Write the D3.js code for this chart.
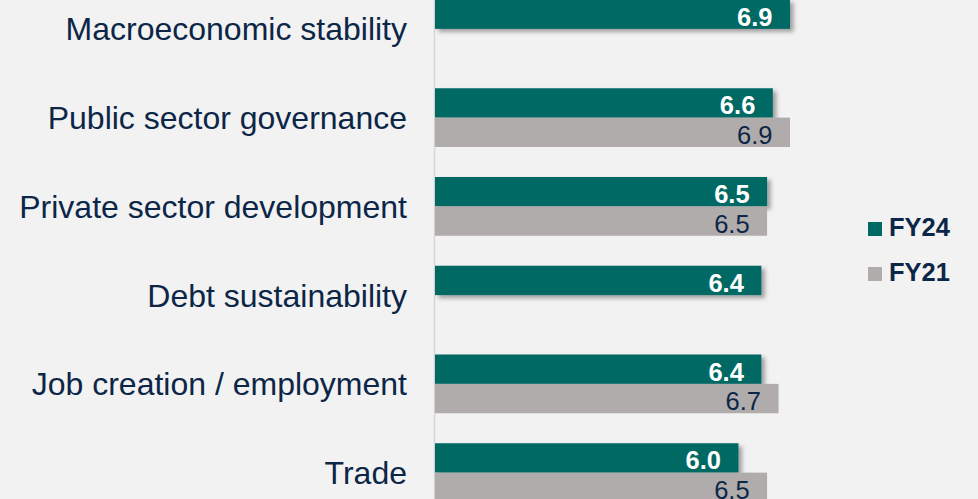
<!DOCTYPE html>
<html>
<head>
<meta charset="utf-8">
<script src="https://cdn.jsdelivr.net/npm/d3@7"></script>
<style>
  html, body { margin: 0; padding: 0; background: #f2f2f2; }
  svg { display: block; font-family: "Liberation Sans", Arial, sans-serif; }
</style>
</head>
<body>
<svg id="vis"></svg>
<script>
const categories = [
  "Macroeconomic stability",
  "Public sector governance",
  "Private sector development",
  "Debt sustainability",
  "Job creation / employment",
  "Trade"
];
const seriesNames = ["FY24", "FY21"];
const fy24 = [6.9, 6.6, 6.5, 6.4, 6.4, 6.0];
const fy21 = [null, 6.9, 6.5, null, 6.7, 6.5];

const WIDTH = 978;
const HEIGHT = 499;
const TEAL = "#006964";
const GREY = "#b0acab";
const NAVY = "#0c2647";

const SVG = d3.select("#vis")
  .attr("width", WIDTH)
  .attr("height", HEIGHT);

SVG.append("rect")
  .attr("width", WIDTH)
  .attr("height", HEIGHT)
  .attr("fill", "#f2f2f2");

// soft excel-like shadow
const defs = SVG.append("defs");
defs.append("filter")
  .attr("id", "shadow")
  .attr("x", "-10%").attr("y", "-30%")
  .attr("width", "130%").attr("height", "180%")
  .append("feDropShadow")
  .attr("dx", 3.5).attr("dy", 3)
  .attr("stdDeviation", 2.2)
  .attr("flood-color", "#000")
  .attr("flood-opacity", 0.35);

// axis does not start at zero in the source chart
const x_scale = d3.scaleLinear()
  .domain([0.7, 6.9])
  .range([435, 790]);

const y_scale = d3.scaleBand()
  .domain(categories)
  .range([-0.5, 502])
  .paddingInner(0.338)
  .paddingOuter(0);

const y_sub = d3.scaleBand()
  .domain(seriesNames)
  .range([0, y_scale.bandwidth()]);

// vertical axis line
SVG.append("line")
  .attr("x1", x_scale.range()[0] - 0.5)
  .attr("x2", x_scale.range()[0] - 0.5)
  .attr("y1", 0)
  .attr("y2", HEIGHT)
  .attr("stroke", "#d6d6d6")
  .attr("stroke-width", 1.5);

// category labels
SVG.append("g").selectAll("text")
  .data(categories)
  .enter()
  .append("text")
  .attr("x", 407)
  .attr("y", (d) => y_scale(d) + y_scale.bandwidth() / 2 + 11.4)
  .attr("text-anchor", "end")
  .attr("font-size", 32)
  .attr("fill", NAVY)
  .text((d) => d);

const rows = categories.map((c, i) => ({cat: c, FY24: fy24[i], FY21: fy21[i]}));

const drawSeries = function(name, color, labelColor, weight, shadow) {
  const data = rows.filter((d) => d[name] != null);
  const g = SVG.append("g").attr("class", "series-" + name);

  g.selectAll("rect")
    .data(data)
    .enter()
    .append("rect")
    .attr("x", x_scale.range()[0])
    .attr("y", (d) => y_scale(d.cat) + y_sub(name))
    .attr("width", (d) => x_scale(d[name]) - x_scale.range()[0])
    .attr("height", y_sub.bandwidth())
    .attr("fill", color)
    .attr("filter", shadow ? "url(#shadow)" : null);

  g.selectAll("text")
    .data(data)
    .enter()
    .append("text")
    .attr("x", (d) => x_scale(d[name]) - 17.5)
    .attr("y", (d) => y_scale(d.cat) + y_sub(name) + y_sub.bandwidth() / 2 + 11.5)
    .attr("text-anchor", "end")
    .attr("font-size", 25.5)
    .attr("font-weight", weight)
    .attr("fill", labelColor)
    .text((d) => d3.format(".1f")(d[name]));
};

drawSeries("FY24", TEAL, "#ffffff", "bold", true);
drawSeries("FY21", GREY, NAVY, "normal", false);

// legend
const legend = SVG.append("g").selectAll("g")
  .data(seriesNames)
  .enter()
  .append("g")
  .attr("transform", (d, i) => `translate(868, ${222 + i * 45})`);

legend.append("rect")
  .attr("width", 14)
  .attr("height", 14)
  .attr("fill", (d) => d === "FY24" ? TEAL : GREY);

legend.append("text")
  .attr("x", 21)
  .attr("y", 14.3)
  .attr("font-size", 25.5)
  .attr("font-weight", "bold")
  .attr("fill", NAVY)
  .text((d) => d);
</script>
</body>
</html>
